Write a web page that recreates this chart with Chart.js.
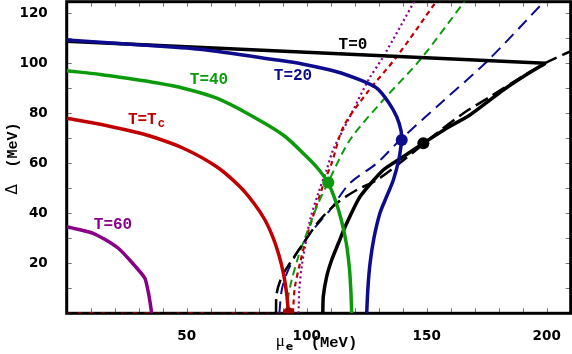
<!DOCTYPE html>
<html>
<head>
<meta charset="utf-8">
<script src="https://cdn.jsdelivr.net/npm/chart.js@4.4.1/dist/chart.umd.min.js"></script>
<style>
    body { margin: 0; background: #fff; }
    canvas { display: block; }
</style>
</head>
<body>
<canvas id="gapChart" width="572" height="354"></canvas>
<script>
// curves: [mu_e (MeV), Delta (MeV)]
const t0Flat = [[0, 108.8], [199.5, 100]];
const t0Solid = [[199.5, 100], [190, 94.5], [181.9, 89.3], [168, 79.3], [158.3, 74], [148.6, 68], [140.2, 62.6],
    [131.9, 57.3], [122.2, 46.6], [116, 34.6], [113.2, 28], [110.4, 21.3], [108.3, 14.6], [106.9, 6.6], [106.7, 0]];
const t20Upper = [[0, 109.3], [28, 107.5], [55.5, 105.6], [87.5, 101.3], [98.6, 99.6], [112.5, 96.6], [122.2, 93.3],
    [129.2, 90], [134, 84.5], [137.5, 78.6], [139.3, 73], [139.6, 69.3]];
const t20Lower = [[139.6, 69.3], [138.5, 62], [136.1, 53.3], [133, 46], [130.5, 40], [128, 30], [126.4, 20],
    [125.5, 10], [125, 0]];
const t40Solid = [[0, 97], [14, 95.5], [28, 93.6], [34.7, 92.6], [48.6, 90], [62.5, 86], [76.4, 79.3], [90.2, 71.3],
    [100, 62.6], [105, 57.5], [109, 52], [112, 45], [114.5, 37], [116.5, 28], [117.8, 18], [118.4, 9], [118.75, 0]];
const tcSolid = [[0, 78], [14, 75.6], [28, 72.6], [34.7, 70.9], [48.6, 66], [62.5, 58.6], [72.2, 50.6], [78, 44],
    [82.5, 37.5], [86.1, 30], [88.5, 23], [90.3, 16], [91.5, 9], [92.1, 3.5], [92.3, 0]];
const t60Solid = [[0, 34.6], [5, 33.5], [11, 32], [16, 29.5], [21.5, 26], [27, 20.5], [32.6, 14], [34, 8.5], [34.8, 4], [35.4, 0]];

const t0Dashed = [[87.2, 0], [87.5, 8], [89.6, 14.6], [93, 20], [98.6, 28], [105.5, 37.3], [112.5, 44], [120.8, 49.3],
    [129.2, 53.3], [140, 61], [154.2, 72], [165.3, 80], [176.4, 86.6], [187.5, 93.3], [199.3, 100], [210, 104.8]];
const t20Dashed = [[88.6, 0], [89.6, 9.3], [91.7, 16], [95.8, 24], [101.4, 32], [109.7, 41.3], [118, 52], [129.2, 60],
    [138.9, 69.3], [157, 85], [175, 100.6], [199.3, 125]];
const t40Dashed = [[91.6, 0], [92.3, 6.6], [93.75, 13.3], [96.5, 22.6], [100, 32], [104.2, 42.6], [109, 52.5],
    [118, 69.3], [131.9, 85.3], [147.2, 101.3], [166, 125]];
const tcDashed = [[94.2, 0], [94.4, 2.6], [95.1, 10.6], [97.2, 20], [100, 30.6], [103.5, 41.3], [107.6, 53.3],
    [110.4, 60], [115.3, 74.6], [125, 88], [137.5, 102.6], [154.2, 125]];
const t60Dotted = [[96.6, 0], [96.7, 2.6], [96.9, 9.3], [97.9, 18.6], [99.3, 26.6], [101.4, 37.3], [104.8, 48],
    [108.3, 57.3], [111, 65.3], [118, 78.6], [125.7, 93.3], [131.9, 102.6], [145, 125]];
const baseBlack = [[0, 0], [87.2, 0]];
const baseRed = [[0, 0], [94.2, 0]];

// end points where the curves meet
const markers = [
    { x: 148.6, y: 68, color: '#000000' },
    { x: 139.6, y: 69.3, color: '#0c0c8c' },
    { x: 109, y: 52.3, color: '#0c9a0c' },
    { x: 92.5, y: 0, color: '#a00000' }
];

const xTickLabels = [50, 100, 150, 200];
const yTickLabels = [20, 40, 60, 80, 100, 120];

const BLACK = '#000000';
const BLUE = '#0c0c8c';
const GREEN = '#0c9a0c';
const RED = '#c00000';
const PURPLE = '#880088';

function toPoints(arr) {
    return arr.map(([x, y]) => ({ x, y }));
}

function curve(arr, color, width, dash, order, tension) {
    return {
        data: toPoints(arr),
        showLine: true,
        borderColor: color,
        borderWidth: width,
        borderDash: dash,
        pointRadius: 0,
        tension: tension === undefined ? 0.3 : tension,
        fill: false,
        order: order
    };
}

const datasets = [
    {
        data: markers.map(m => ({ x: m.x, y: m.y })),
        pointRadius: 6,
        pointBackgroundColor: markers.map(m => m.color),
        pointBorderColor: markers.map(m => m.color),
        pointBorderWidth: 0,
        showLine: false,
        clip: 0,
        order: 0
    },
    curve(t20Upper, BLUE, 3.5, [], 1),
    curve(t20Lower, BLUE, 3.5, [], 1),
    curve(t40Solid, GREEN, 3.5, [], 1),
    curve(tcSolid, RED, 3.5, [], 1, 0.35),
    curve(t60Solid, PURPLE, 3.5, [], 1, 0.15),
    curve(t0Flat, BLACK, 3.5, [], 2, 0),
    curve(t0Solid, BLACK, 3.5, [], 2, 0.2),
    curve(t0Dashed, BLACK, 2.5, [14, 6], 3),
    curve(t20Dashed, BLUE, 2, [12, 7], 3),
    curve(t40Dashed, GREEN, 2, [8, 5], 3),
    curve(tcDashed, RED, 2.2, [5, 4], 3),
    curve(t60Dotted, PURPLE, 2.2, [2, 3], 3),
    curve(baseBlack, BLACK, 2, [8, 6], 4, 0),
    curve(baseRed, RED, 2, [5, 6], 4, 0)
];

// no extra room for half tick labels at the ends of the axes
function noEndPadding(scale) {
    scale.paddingTop = 0;
    scale.paddingBottom = 0;
    scale.paddingLeft = 0;
    scale.paddingRight = 0;
}

// frame, inward ticks, curve labels and axis titles
const decorations = {
    id: 'decorations',
    beforeDatasetsDraw(chart) {
        const { ctx, chartArea: a, scales: { x, y } } = chart;
        ctx.save();
        ctx.strokeStyle = '#777';
        ctx.lineWidth = 1;
        ctx.beginPath();
        for (let v = 10; v < 210; v += 10) {
            const px = Math.round(x.getPixelForValue(v)) + 0.5;
            ctx.moveTo(px, a.bottom); ctx.lineTo(px, a.bottom - 5);
            ctx.moveTo(px, a.top); ctx.lineTo(px, a.top + 5);
        }
        for (let v = 10; v < 125; v += 10) {
            const py = Math.round(y.getPixelForValue(v)) + 0.5;
            ctx.moveTo(a.left, py); ctx.lineTo(a.left + 5, py);
            ctx.moveTo(a.right, py); ctx.lineTo(a.right - 5, py);
        }
        ctx.stroke();
        ctx.strokeStyle = '#000';
        ctx.lineWidth = 3;
        ctx.strokeRect(a.left, a.top, a.right - a.left, a.bottom - a.top);
        ctx.restore();
    },
    afterDatasetsDraw(chart) {
        const { ctx, chartArea: a, scales: { x, y } } = chart;
        ctx.save();
        ctx.textBaseline = 'middle';
        ctx.textAlign = 'center';
        ctx.font = 'bold 16px "Liberation Mono"';
        const labels = [
            { text: 'T=0', x: 119.3, y: 107.3, color: BLACK },
            { text: 'T=20', x: 94.3, y: 95.1, color: BLUE },
            { text: 'T=40', x: 59.3, y: 93.3, color: GREEN },
            { text: 'T=60', x: 19.3, y: 35.3, color: PURPLE }
        ];
        labels.forEach(l => {
            ctx.fillStyle = l.color;
            ctx.fillText(l.text, x.getPixelForValue(l.x), y.getPixelForValue(l.y));
        });

        // T=Tc with subscript
        ctx.fillStyle = RED;
        ctx.textAlign = 'left';
        const tcX = x.getPixelForValue(25.5);
        const tcY = y.getPixelForValue(77.3);
        ctx.fillText('T=T', tcX, tcY);
        const tw = ctx.measureText('T=T').width;
        ctx.font = 'bold 12px "Liberation Mono"';
        ctx.fillText('c', tcX + tw + 1, tcY + 4);

        // x title
        ctx.fillStyle = '#000';
        ctx.textBaseline = 'alphabetic';
        const cx = (a.left + a.right) / 2;
        ctx.font = '17px "Liberation Serif"';
        ctx.fillText('\u03bc', cx - 43, 346);
        ctx.font = 'bold 11px "DejaVu Sans"';
        ctx.fillText('e', cx - 33, 350);
        ctx.font = 'bold 15.5px "Liberation Mono"';
        ctx.fillText('(MeV)', cx - 8, 347);

        // y title
        ctx.translate(13, (a.top + a.bottom) / 2 + 37);
        ctx.rotate(-Math.PI / 2);
        ctx.textBaseline = 'middle';
        ctx.font = '15px "DejaVu Sans"';
        ctx.fillText('\u0394', 0, 0);
        ctx.font = 'bold 15px "Liberation Mono"';
        ctx.fillText('(MeV)', 27, 0);
        ctx.restore();
    }
};

const ctx = document.getElementById('gapChart').getContext('2d');
new Chart(ctx, {
    type: 'scatter',
    data: { datasets: datasets },
    options: {
        responsive: false,
        animation: false,
        layout: { autoPadding: false, padding: { left: 0, right: 1.3, top: 1.7, bottom: 0 } },
        plugins: {
            legend: { display: false },
            tooltip: { enabled: false }
        },
        scales: {
            x: {
                type: 'linear',
                min: 0,
                max: 210,
                grid: { display: false },
                border: { display: false },
                afterFit: (scale) => { scale.height = 40.7; noEndPadding(scale); },
                ticks: {
                    stepSize: 10,
                    includeBounds: false,
                    autoSkip: false,
                    maxRotation: 0,
                    padding: 7,
                    color: '#000',
                    font: { family: 'DejaVu Sans', weight: 'bold', size: 13.5 },
                    callback: (v) => xTickLabels.includes(v) ? v : ''
                }
            },
            y: {
                type: 'linear',
                min: 0,
                max: 124.6,
                grid: { display: false },
                border: { display: false },
                afterFit: (scale) => { scale.width = 66.7; noEndPadding(scale); },
                ticks: {
                    stepSize: 10,
                    includeBounds: false,
                    autoSkip: false,
                    padding: 11,
                    color: '#000',
                    font: { family: 'DejaVu Sans', weight: 'bold', size: 13.5 },
                    callback: (v) => yTickLabels.includes(v) ? v : ''
                }
            }
        }
    },
    plugins: [decorations]
});
</script>
</body>
</html>
